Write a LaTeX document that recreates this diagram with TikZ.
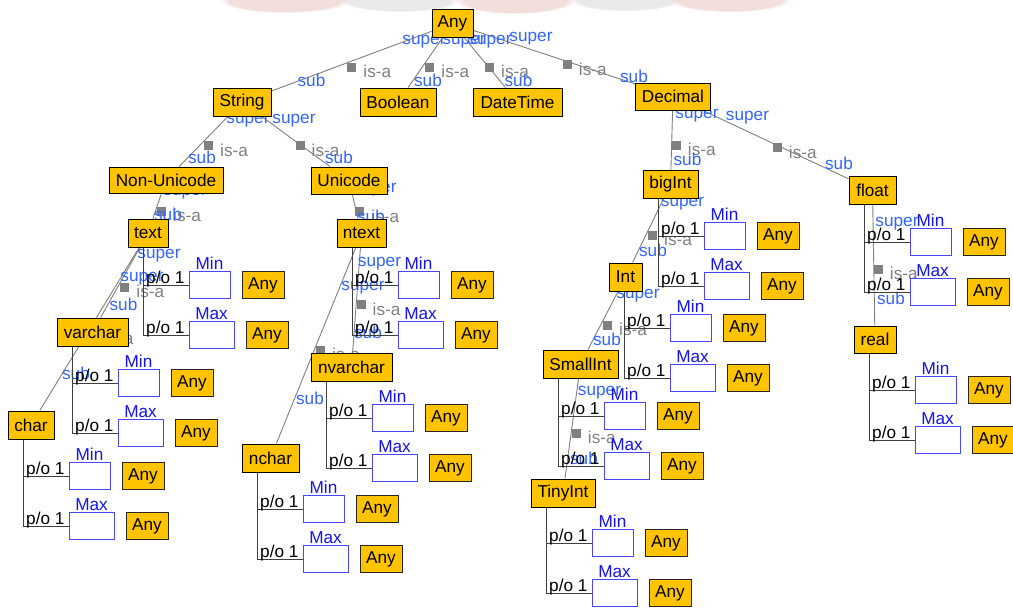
\documentclass[tikz,border=0pt]{standalone}
\usepackage{fontspec}
\setmainfont{Liberation Sans}
\usetikzlibrary{calc,fadings}
\pgfdeclarelayer{bg}
\pgfdeclarelayer{paper}
\pgfsetlayers{paper,bg,main}

\definecolor{clsfill}{RGB}{255,195,0}
\definecolor{linkgray}{RGB}{128,128,128}
\definecolor{roleblue}{RGB}{51,102,255}
\definecolor{slotblue}{RGB}{20,20,235}
\definecolor{slotframe}{RGB}{70,70,250}
\definecolor{hazerose}{RGB}{230,190,185}
\definecolor{hazegray}{RGB}{215,210,210}

\tikzset{
  every node/.style={font=\fontsize{17.2}{19}\selectfont, inner sep=0pt},
  cls/.style={draw=black, line width=1pt, fill=clsfill, minimum height=28pt},
  anybox/.style={draw=black!85, line width=1pt, fill=clsfill, minimum width=42pt, minimum height=27pt},
  slotbox/.style={draw=slotframe, line width=1pt, fill=white, minimum height=27pt},
  isaline/.style={draw=linkgray, line width=0.9pt},
  isamark/.style={fill=linkgray, minimum size=9pt, anchor=north west},
  isalbl/.style={text=linkgray, anchor=base west},
  rolelbl/.style={text=roleblue},
  slotlbl/.style={text=slotblue, anchor=south},
  polbl/.style={anchor=base west},
  attrline/.style={draw=black!75, line width=1pt},
  blot/.style={fill=#1, path fading=circle with fuzzy edge 15 percent, opacity=0.5},
}

% is-a link: straight line between the two classes, marker at the midpoint
\newcommand\isalink[2]{%
  \draw[isaline] (#1) -- (#2);
  \node[isamark] (#1-#2-m) at ($(#1)!0.5!(#2)$) {};
  \node[isalbl] at ($(#1)!0.5!(#2)+(16pt,-15pt)$) {is-a};
}

% Min / Max slots of a class: #1 class, #2 x of the stem, #3 y of the Min row
\newcommand\slotpair[3]{%
  \node[slotbox, minimum width=41pt] (#1min) at (#2+66.5,#3) {};
  \node[slotlbl] at ([yshift=1.5pt]#1min.north) {Min};
  \node[anybox] (#1minv) at (#2+120,#3) {Any};
  \node[slotbox, minimum width=45pt] (#1max) at (#2+68.5,#3+50) {};
  \node[slotlbl] at ([yshift=1.5pt]#1max.north) {Max};
  \node[anybox] (#1maxv) at (#2+124,#3+50) {Any};
  \draw[attrline] (#1.south -| #2,0) |- (#1min.west);
  \draw[attrline] (#1.south -| #2,0) |- (#1max.west);
  \node[polbl] at (#2+3,#3-2) {p/o 1};
  \node[polbl] at (#2+3,#3+48) {p/o 1};
}

\begin{document}
\begin{tikzpicture}[x=1pt,y=-1pt]
\begin{pgfonlayer}{paper}
  \fill[white] (0,0) rectangle (1013,608);
  % soft blots along the upper edge
  \begin{scope}
    \clip (0,0) rectangle (1013,14);
    \fill[blot=hazerose] (285,0) ellipse [x radius=65pt, y radius=13pt];
    \fill[blot=hazegray] (400,0) ellipse [x radius=60pt, y radius=12pt];
    \fill[blot=hazerose] (515,0) ellipse [x radius=60pt, y radius=14pt];
    \fill[blot=hazegray] (625,0) ellipse [x radius=55pt, y radius=11pt];
    \fill[blot=hazerose] (730,0) ellipse [x radius=60pt, y radius=12pt];
  \end{scope}
\end{pgfonlayer}
\useasboundingbox (0,0) rectangle (1013,608);

% classes
\node[cls, minimum width=41pt] (any) at (452.5,23.5) {Any};
\node[cls, minimum width=58pt] (string) at (242,102) {String};
\node[cls, minimum width=76pt] (boolean) at (398,102) {Boolean};
\node[cls, minimum width=89pt] (datetime) at (517.5,102) {DateTime};
\node[cls, minimum width=75pt, minimum height=27pt] (decimal) at (673,96.5) {Decimal};
\node[cls, minimum width=114pt, minimum height=26pt] (nonuni) at (166,180) {Non-Unicode};
\node[cls, minimum width=76pt, minimum height=27pt] (uni) at (349,180.5) {Unicode};
\node[cls, minimum width=40pt] (text) at (148,233) {text};
\node[cls, minimum width=71pt] (varchar) at (92.5,332) {varchar};
\node[cls, minimum width=46pt] (char) at (31,425) {char};
\node[cls, minimum width=49pt] (ntext) at (361.5,233.5) {ntext};
\node[cls, minimum width=81pt] (nvarchar) at (351.5,367) {nvarchar};
\node[cls, minimum width=57pt] (nchar) at (270.5,458) {nchar};
\node[cls, minimum width=55pt] (bigint) at (670.5,184.5) {bigInt};
\node[cls, minimum width=33pt] (int) at (625.5,277) {Int};
\node[cls, minimum width=75pt] (smallint) at (580.5,364) {SmallInt};
\node[cls, minimum width=64pt] (tinyint) at (563,493) {TinyInt};
\node[cls, minimum width=47pt] (float) at (872.5,190) {float};
\node[cls, minimum width=42pt, minimum height=27pt] (real) at (875,339.5) {real};

% slots
\slotpair{text}{143}{285}
\slotpair{varchar}{72}{383}
\slotpair{char}{23}{476}
\slotpair{ntext}{352}{285}
\slotpair{nvarchar}{326}{418}
\slotpair{nchar}{257}{509}
\slotpair{bigint}{658}{236}
\slotpair{int}{624}{328}
\slotpair{smallint}{558}{416}
\slotpair{tinyint}{546}{543}
\slotpair{float}{864}{242}
\slotpair{real}{869}{390}

\begin{pgfonlayer}{bg}
  \isalink{any}{string}
  \isalink{any}{boolean}
  \isalink{any}{datetime}
  \isalink{any}{decimal}
  \isalink{string}{nonuni}
  \isalink{string}{uni}
  \isalink{nonuni}{text}
  \isalink{uni}{ntext}
  \isalink{text}{varchar}
  \isalink{text}{char}
  \isalink{ntext}{nvarchar}
  \isalink{ntext}{nchar}
  \isalink{decimal}{bigint}
  \isalink{decimal}{float}
  \isalink{bigint}{int}
  \isalink{int}{smallint}
  \isalink{smallint}{tinyint}
  \isalink{float}{real}

  % role names at the ends of the links
  \node[rolelbl] at (424,41.5) {super};
  \node[rolelbl] at (464,41.5) {super};
  \node[rolelbl] at (490,41.5) {super};
  \node[rolelbl] at (531,39) {super};
  \node[rolelbl] at (311.5,80.5) {sub};
  \node[rolelbl] at (428,80.5) {sub};
  \node[rolelbl] at (518.5,80.5) {sub};
  \node[rolelbl] at (634,76) {sub};
  \node[rolelbl] at (248,120.5) {super};
  \node[rolelbl] at (294,120.5) {super};
  \node[rolelbl] at (202,157.5) {sub};
  \node[rolelbl] at (339,157.5) {sub};
  \node[rolelbl] at (185,193) {super};
  \node[rolelbl] at (168,214) {sub};
  \node[rolelbl] at (375,190) {super};
  \node[rolelbl] at (371,216) {sub};
  \node[rolelbl] at (159,256) {super};
  \node[rolelbl] at (123.5,304) {sub};
  \node[rolelbl] at (142,278.5) {super};
  \node[rolelbl] at (76,373.5) {sub};
  \node[rolelbl] at (379.5,264) {super};
  \node[rolelbl] at (368,332) {sub};
  \node[rolelbl] at (363,287.5) {super};
  \node[rolelbl] at (310,398) {sub};
  \node[rolelbl] at (697,115.5) {super};
  \node[rolelbl] at (687.5,159.5) {sub};
  \node[rolelbl] at (747.5,117.5) {super};
  \node[rolelbl] at (839,163.5) {sub};
  \node[rolelbl] at (682.5,204) {super};
  \node[rolelbl] at (653,250.5) {sub};
  \node[rolelbl] at (638,296) {super};
  \node[rolelbl] at (607,339) {sub};
  \node[rolelbl] at (599.5,392.5) {super};
  \node[rolelbl] at (584,458) {sub};
  \node[rolelbl] at (897,224) {super};
  \node[rolelbl] at (891,298.5) {sub};
\end{pgfonlayer}
\end{tikzpicture}
\end{document}
